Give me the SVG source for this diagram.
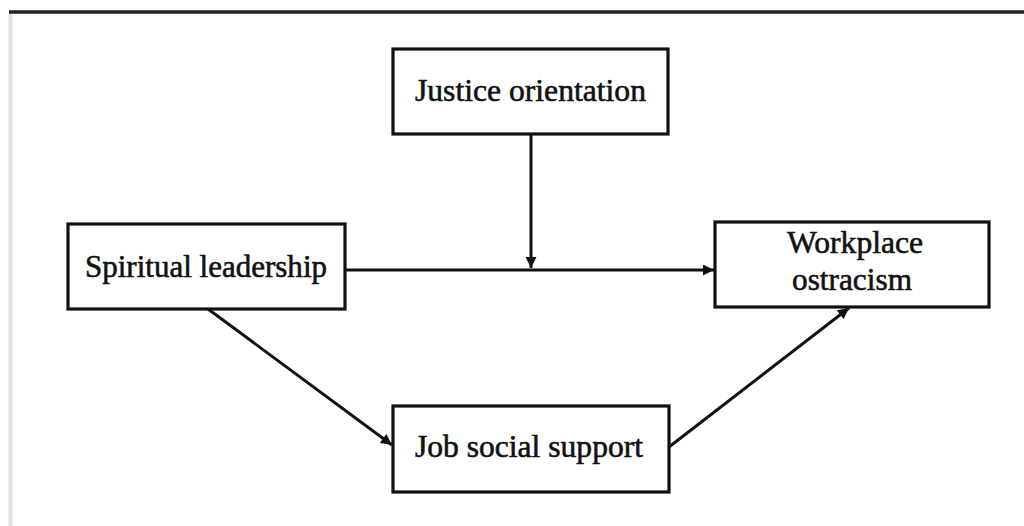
<svg xmlns="http://www.w3.org/2000/svg" width="1024" height="526" viewBox="0 0 1024 526">
  <style>
    .box { fill: #ffffff; stroke: #111111; stroke-width: 3.2; }
    .label { font-family: "Liberation Serif", "Times New Roman", serif; font-size: 32px; fill: #111111; stroke: #111111; stroke-width: 0.6; text-anchor: middle; }
    .edge { stroke: #111111; stroke-width: 3; fill: none; }
  </style>
  <defs>
    <marker id="arrow" viewBox="0 0 10 10" refX="10" refY="5" markerWidth="12" markerHeight="11" markerUnits="userSpaceOnUse" orient="auto">
      <path d="M0,0 L10,5 L0,10 z" fill="#111111"/>
    </marker>
  </defs>

  <rect width="1024" height="526" fill="#ffffff"/>

  <!-- frame -->
  <line x1="10.5" y1="14" x2="10.5" y2="526" stroke="#e2e2e2" stroke-width="4"/>
  <line x1="9" y1="12" x2="1024" y2="12" stroke="#222222" stroke-width="3.5"/>

  <g id="connectors">
    <line class="edge" x1="531" y1="135" x2="531" y2="268" marker-end="url(#arrow)"/>
    <line class="edge" x1="345" y1="270" x2="714" y2="270" marker-end="url(#arrow)"/>
    <line class="edge" x1="208" y1="309" x2="392" y2="445" marker-end="url(#arrow)"/>
    <line class="edge" x1="669" y1="447" x2="849" y2="308" marker-end="url(#arrow)"/>
  </g>

  <g id="justice-orientation">
    <rect class="box" x="393" y="49" width="275" height="85"/>
    <text class="label" x="530.5" y="101" textLength="231" lengthAdjust="spacingAndGlyphs">Justice orientation</text>
  </g>

  <g id="spiritual-leadership">
    <rect class="box" x="68" y="224" width="277" height="85"/>
    <text class="label" x="206" y="277" textLength="242" lengthAdjust="spacingAndGlyphs">Spiritual leadership</text>
  </g>

  <g id="workplace-ostracism">
    <rect class="box" x="715" y="222" width="274" height="85"/>
    <text class="label" x="855" y="253" textLength="136" lengthAdjust="spacingAndGlyphs">Workplace</text>
    <text class="label" x="852" y="290" textLength="120" lengthAdjust="spacingAndGlyphs">ostracism</text>
  </g>

  <g id="job-social-support">
    <rect class="box" x="393" y="406" width="276" height="86"/>
    <text class="label" x="529" y="457" textLength="228" lengthAdjust="spacingAndGlyphs">Job social support</text>
  </g>
</svg>
